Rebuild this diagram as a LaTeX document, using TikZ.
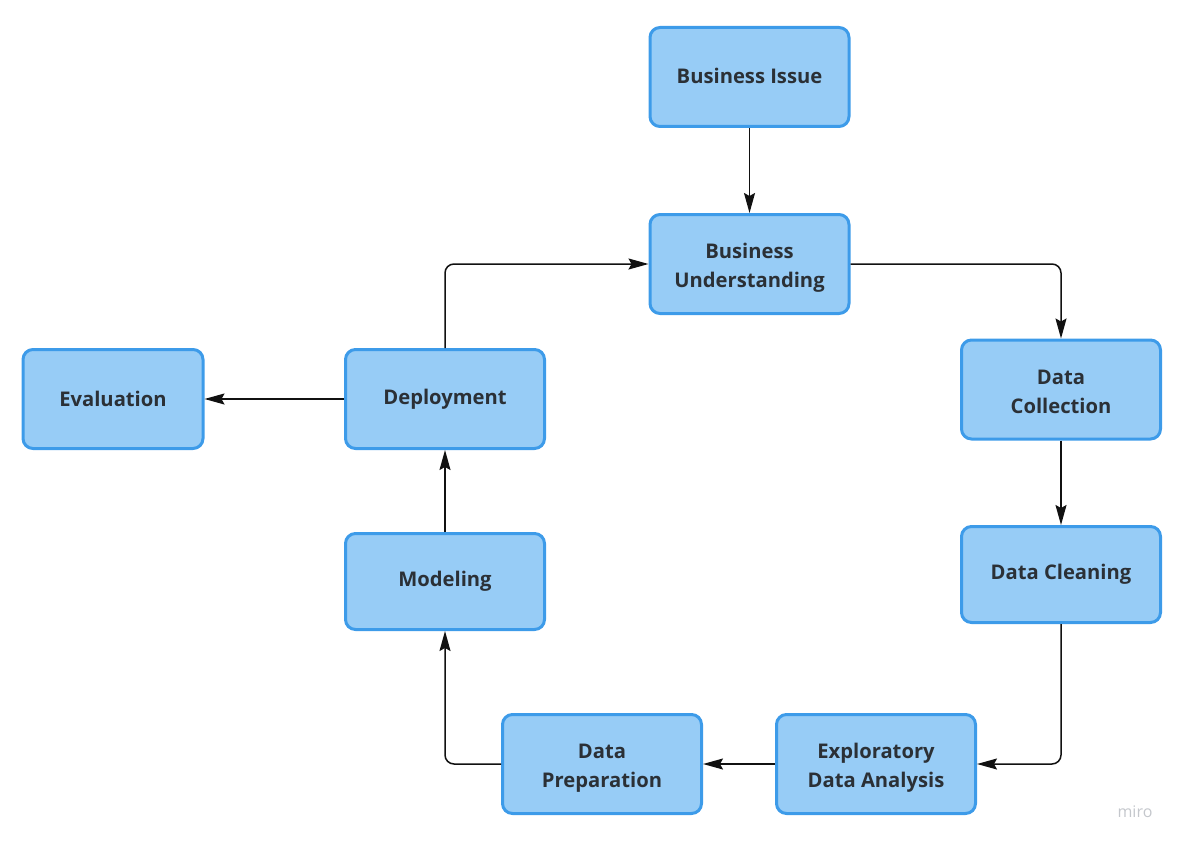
\documentclass[tikz,border=0pt]{standalone}
\usepackage{fontspec}
\setmainfont{Open Sans}
\usetikzlibrary{arrows.meta}
\definecolor{boxfill}{HTML}{97CCF6}
\definecolor{boxline}{HTML}{3D9BE9}
\definecolor{txt}{HTML}{2B3036}
\definecolor{conn}{HTML}{111111}
\definecolor{wm}{HTML}{C4C7CC}
\newcommand{\twolines}[2]{\raisebox{-3.5pt}[\height][\depth]{\begin{tabular}{@{}c@{}}#1\\#2\end{tabular}}}
\newcommand{\oneline}[1]{\raisebox{1.5pt}[\height][\depth]{#1}}
\tikzset{
  stepbox/.style={draw=boxline, fill=boxfill, line width=3pt, rounded corners=10pt,
    minimum width=199pt, minimum height=99pt, align=center, text=txt,
    font=\fontsize{20.2}{29}\selectfont\bfseries, inner sep=0pt},
  conn/.style={draw=conn, line width=1.5pt, rounded corners=9pt,
    -{Stealth[length=20pt,width=11pt,inset=3pt]}},
}
\begin{document}
\begin{tikzpicture}[x=1pt,y=-1pt]
\useasboundingbox (0,0) rectangle (1182,845);
\node[stepbox] (bi) at (749.5,77) {\oneline{Business Issue}};
\node[stepbox] (bu) at (749.5,264) {\twolines{Business}{Understanding}};
\node[stepbox] (dc) at (1061,389.5) {\twolines{Data}{Collection}};
\node[stepbox, minimum height=96pt] (dcl) at (1061,574.5) {Data Cleaning};
\node[stepbox] (eda) at (876,764) {\twolines{Exploratory}{Data Analysis}};
\node[stepbox] (dp) at (602,764) {\twolines{Data}{Preparation}};
\node[stepbox, minimum height=96pt] (mo) at (445,581.5) {Modeling};
\node[stepbox] (de) at (445,399) {Deployment};
\node[stepbox, minimum width=180pt] (ev) at (113,399) {Evaluation};
\node[text=wm, font=\fontsize{16}{18}\selectfont, anchor=center] (miro) at (1135,812) {miro};

\draw[conn] (bi.south) -- (bu.north);
\draw[conn] (bu.east) -| (dc.north);
\draw[conn] (dc.south) -- (dcl.north);
\draw[conn] (dcl.south) |- (eda.east);
\draw[conn] (eda.west) -- (dp.east);
\draw[conn] (dp.west) -| (mo.south);
\draw[conn] (mo.north) -- (de.south);
\draw[conn] (de.north) |- (bu.west);
\draw[conn] (de.west) -- (ev.east);
\end{tikzpicture}
\end{document}
